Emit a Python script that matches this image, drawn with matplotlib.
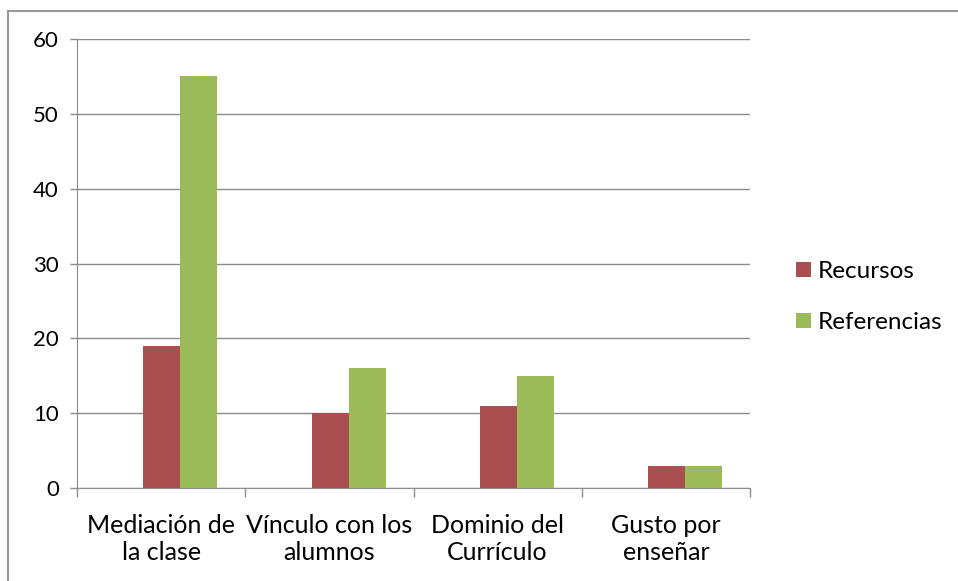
import numpy as np
import matplotlib
matplotlib.use("Agg")
import matplotlib.pyplot as plt
from matplotlib.lines import Line2D

categories = ["Mediación de\nla clase", "Vínculo con los\nalumnos", "Dominio del\nCurrículo", "Gusto por\nenseñar"]
recursos = [19, 10, 11, 3]
referencias = [55, 16, 15, 3]
yticks = [0, 10, 20, 30, 40, 50, 60]

plt.rcParams['font.family'] = ['Lato', 'DejaVu Sans']

fig = plt.figure(figsize=(9.58, 5.81), dpi=100)
ax = fig.add_axes([77/958, 1 - 488/581, (750-77)/958, (488-39)/581])

x = np.arange(len(categories))
w = 0.22
shift = 0.115  # bars sit a bit right of the category centre, as in the original
ax.bar(x - w/2 + shift, recursos, w, color="#A94F4F", label="Recursos", zorder=3)
ax.bar(x + w/2 + shift, referencias, w, color="#9BBB59", label="Referencias", zorder=3)

ax.set_xlim(-0.5, len(categories) - 0.5)
ax.set_ylim(0, 60)
ax.set_yticks(yticks)
ax.set_yticklabels([str(v) for v in yticks], fontsize=16, color="black")
ax.yaxis.grid(True, color="#8c8c8c", linewidth=1, zorder=0)

ax.set_xticks(x)
ax.set_xticklabels(categories, fontsize=18, linespacing=1.2, color="black")
ax.tick_params(axis='x', length=0, pad=19)
ax.set_xticks(np.arange(len(categories) + 1) - 0.5, minor=True)
ax.tick_params(axis='x', which='minor', length=6.5, color="#8c8c8c", width=1)
ax.tick_params(axis='y', length=5, color="#8c8c8c", width=1, pad=8)

for s in ["top", "right"]:
    ax.spines[s].set_visible(False)
for s in ["left", "bottom"]:
    ax.spines[s].set_color("#8c8c8c")

leg = fig.legend(loc="center left", bbox_to_anchor=(796/958, 1 - 297/581), frameon=False,
                 fontsize=17.5, handlelength=0.6, handleheight=0.6, handletextpad=0.3,
                 labelspacing=1.25, borderpad=0, borderaxespad=0)
for t in leg.get_texts():
    t.set_color("black")

# outer frame: only top and left edges are visible in the original crop
top_y = 1 - 11/581
left_x = 8/958
fig.add_artist(Line2D([left_x, 1], [top_y, top_y], transform=fig.transFigure, color="#999999", lw=1.5))
fig.add_artist(Line2D([left_x, left_x], [0, top_y], transform=fig.transFigure, color="#999999", lw=1.5))

fig.savefig("out.png", dpi=100)
